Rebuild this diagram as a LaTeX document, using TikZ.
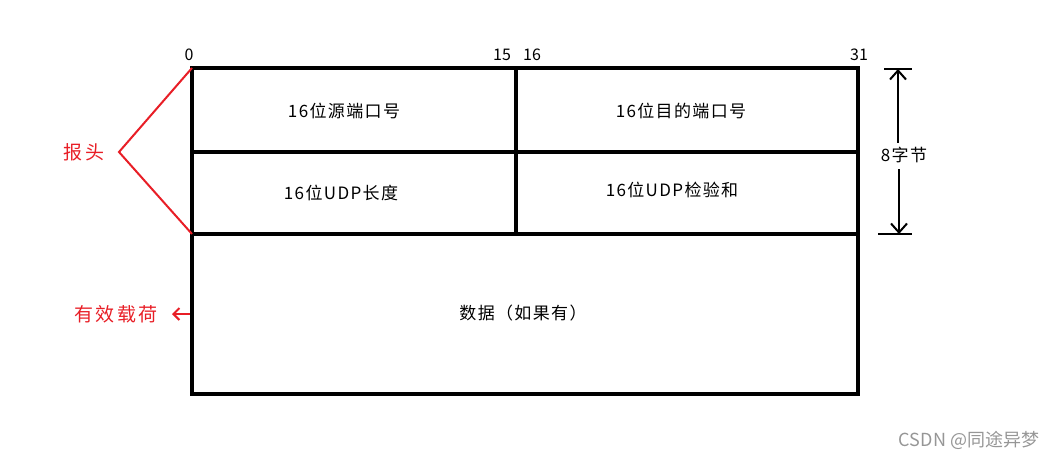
\documentclass[tikz,border=0pt]{standalone}
\usepackage{fontspec}
\setmainfont{Noto Sans CJK SC}
\usetikzlibrary{arrows.meta,positioning}

\definecolor{hdrred}{RGB}{232,30,38}
\definecolor{markgray}{RGB}{150,150,150}

\tikzset{
  frameline/.style={line width=4pt},
  fieldtext/.style={font=\fontsize{17}{19}\selectfont\addfontfeature{LetterSpace=8},inner sep=0pt},
  bitnum/.style={font=\fontsize{16}{18}\selectfont,inner sep=0pt,anchor=base},
  redtext/.style={font=\fontsize{19}{21}\selectfont\addfontfeature{LetterSpace=14},text=hdrred,inner sep=0pt},
  redline/.style={draw=hdrred,line width=2pt},
  sizearrow/.style={line width=2pt,-{Straight Barb[length=9pt,width=16pt]}}
}

\begin{document}
\begin{tikzpicture}[x=1pt,y=-1pt]
\useasboundingbox (0,0) rectangle (1061,460);
% corners of the datagram
\coordinate (tl) at (192,68);
\coordinate (tr) at (858,68);
\coordinate (bl) at (192,394);
\coordinate (br) at (858,394);
\coordinate (ml) at (192,152);
\coordinate (mr) at (858,152);
\coordinate (hl) at (192,234);
\coordinate (hr) at (858,234);
\coordinate (midtop) at (516,68);
\coordinate (midbot) at (516,234);

\draw[frameline] (tl) rectangle (br);
\draw[frameline] (ml) -- (mr);
\draw[frameline] (hl) -- (hr);
\draw[frameline] (midtop) -- (midbot);

% bit numbers
\node[bitnum] (b0) at (189,61) {0};
\node[bitnum] (b15) at (502,61) {15};
\node[bitnum] (b16) at (532,61) {16};
\node[bitnum] (b31) at (859,61) {31};

% fields
\node[fieldtext] (srcport) at (344,111) {16位源端口号};
\node[fieldtext] (dstport) at (681,111) {16位目的端口号};
\node[fieldtext] (udplen) at (341,193) {16位UDP长度};
\node[fieldtext] (udpsum) at (672,190) {16位UDP检验和};
\node[fieldtext] (payload) at (523,313) {数据（如果有）};

% header brace
\node[redtext] (hdr) at (84,152) {报头};
\coordinate (apex) at (119,152);
\draw[redline] (tl) -- (apex) -- (hl);

% payload label
\node[redtext] (load) at (116,314) {有效载荷};
\coordinate (loadtip) at (172,314);
\coordinate (loadend) at (190,314);
\draw[redline,-{Straight Barb[length=6pt,width=12pt]}] (loadend) -- (loadtip);

% 8 bytes
\node[fieldtext] (eight) at (904,155) {8字节};
\coordinate (ttop) at (898,69);
\coordinate (tbot) at (899,234);
\draw[line width=2pt] (884,69) -- (912,69);
\draw[line width=2pt] (878,234) -- (912,234);
\draw[sizearrow] (eight.north -| ttop) ++(0,-4) -- (ttop);
\draw[sizearrow] (eight.south -| tbot) ++(0,6) -- (tbot);

% watermark
\node[font=\fontsize{18}{20}\selectfont,text=markgray,inner sep=0pt] (mark) at (969,440) {CSDN @同途异梦};
\end{tikzpicture}
\end{document}
